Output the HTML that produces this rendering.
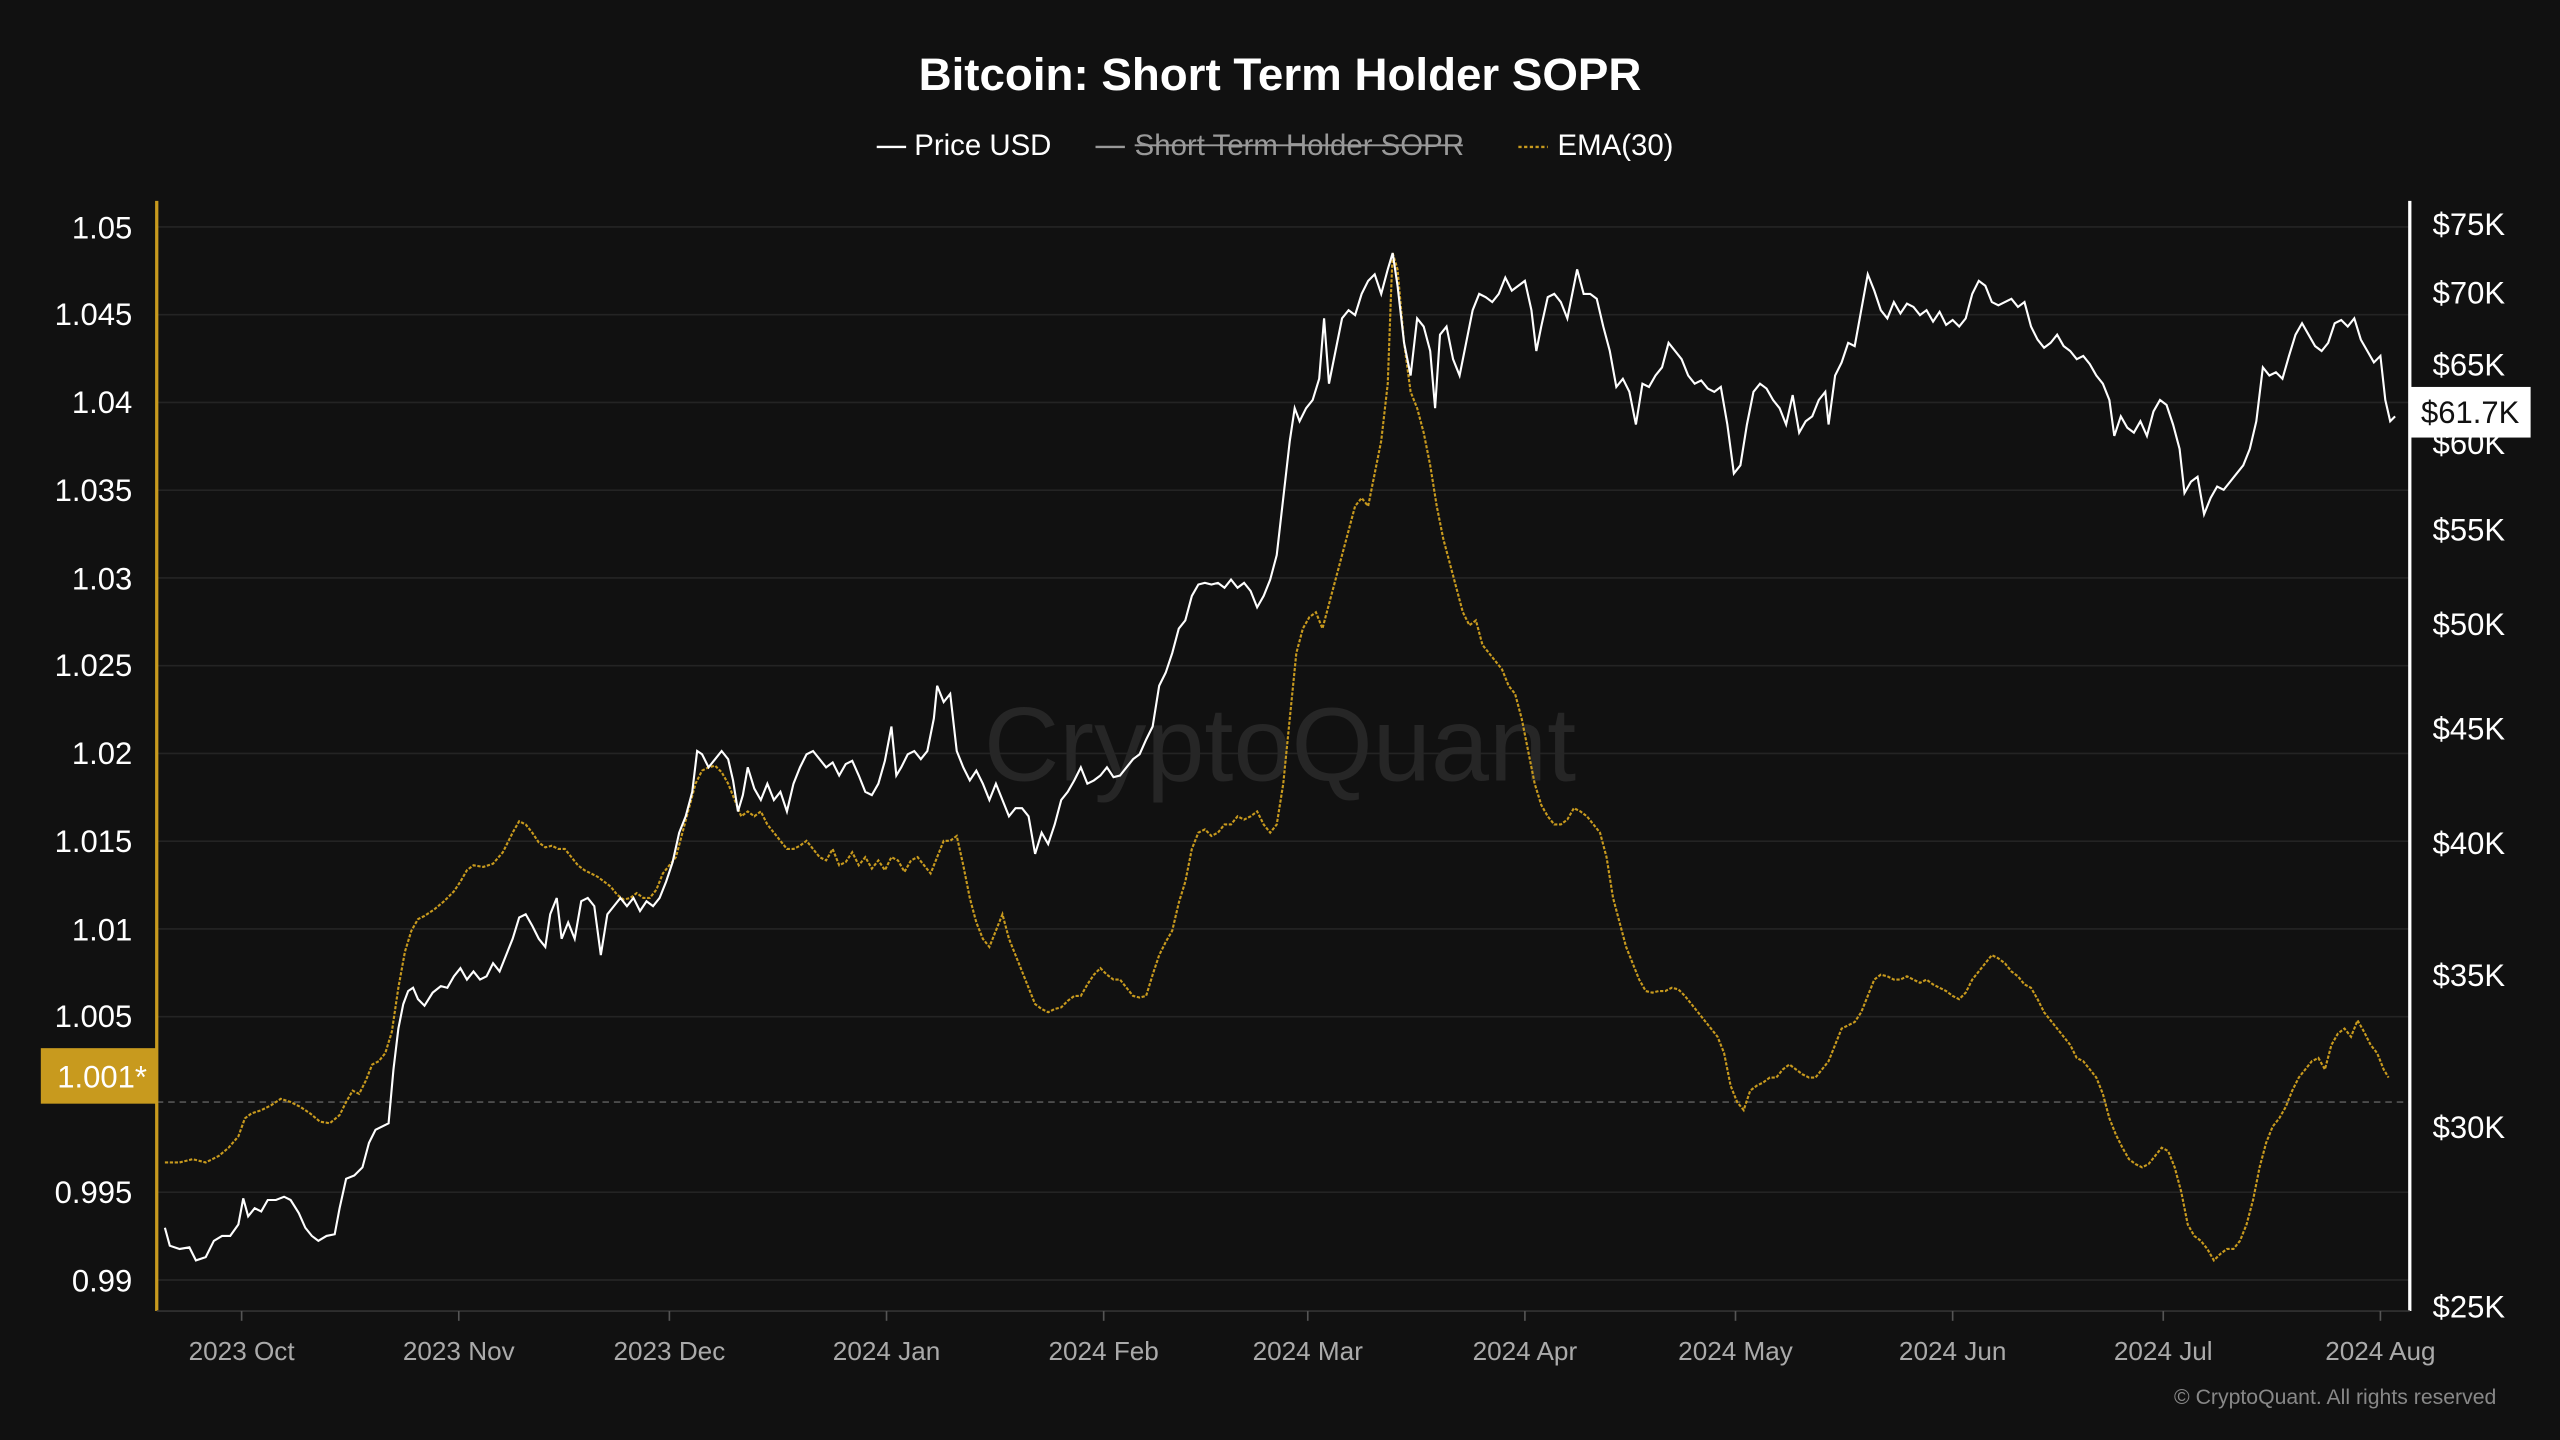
<!DOCTYPE html>
<html><head><meta charset="utf-8"><style>
html,body{margin:0;padding:0;background:#111111;}
svg{display:block}
text{font-family:"Liberation Sans",sans-serif;}
</style></head><body>
<svg width="2560" height="1440" viewBox="0 0 1568 882" xmlns="http://www.w3.org/2000/svg">
<rect width="1568" height="882" fill="#111111"/>
<text x="784" y="55" text-anchor="middle" fill="#ffffff" font-size="28" font-weight="bold">Bitcoin: Short Term Holder SOPR</text>
<g font-size="18">
<line x1="537" y1="90" x2="555" y2="90" stroke="#fff" stroke-width="1.5"/>
<text x="560" y="95" fill="#fff">Price USD</text>
<line x1="671" y1="90" x2="689" y2="90" stroke="#999" stroke-width="1.5"/>
<text x="695" y="95" fill="#999">Short Term Holder SOPR</text>
<line x1="695" y1="89" x2="896" y2="89" stroke="#999" stroke-width="1.2"/>
<line x1="930" y1="90" x2="948" y2="90" stroke="#c89a1e" stroke-width="1.5" stroke-dasharray="2,1.5"/>
<text x="954" y="95" fill="#fff">EMA(30)</text>
</g>
<g stroke="#242424" stroke-width="1">
<line x1="96" y1="139" x2="1476" y2="139"/><line x1="96" y1="192.75" x2="1476" y2="192.75"/>
<line x1="96" y1="246.5" x2="1476" y2="246.5"/><line x1="96" y1="300.25" x2="1476" y2="300.25"/>
<line x1="96" y1="354" x2="1476" y2="354"/><line x1="96" y1="407.75" x2="1476" y2="407.75"/>
<line x1="96" y1="461.5" x2="1476" y2="461.5"/><line x1="96" y1="515.25" x2="1476" y2="515.25"/>
<line x1="96" y1="569" x2="1476" y2="569"/><line x1="96" y1="622.75" x2="1476" y2="622.75"/>
<line x1="96" y1="730.25" x2="1476" y2="730.25"/><line x1="96" y1="784" x2="1476" y2="784"/>
</g>
<line x1="96" y1="675" x2="1476" y2="675" stroke="#555" stroke-width="1" stroke-dasharray="4,3"/>
<text x="784" y="478" text-anchor="middle" fill="#262626" font-size="64">CryptoQuant</text>
<line x1="96" y1="123" x2="96" y2="803" stroke="#c89a1e" stroke-width="2"/>
<line x1="1476" y1="123" x2="1476" y2="803" stroke="#ffffff" stroke-width="2"/>
<line x1="96" y1="803" x2="1476" y2="803" stroke="#333" stroke-width="1"/>
<g fill="#fff" font-size="19" text-anchor="end">
<text x="81" y="146">1.05</text><text x="81" y="199">1.045</text><text x="81" y="253">1.04</text>
<text x="81" y="307">1.035</text><text x="81" y="361">1.03</text><text x="81" y="414">1.025</text>
<text x="81" y="468">1.02</text><text x="81" y="522">1.015</text><text x="81" y="576">1.01</text>
<text x="81" y="629">1.005</text><text x="81" y="737">0.995</text><text x="81" y="791">0.99</text>
</g>
<rect x="25" y="642" width="71" height="34" fill="#c89a1e"/>
<text x="90" y="666" text-anchor="end" fill="#fff" font-size="19">1.001*</text>
<g fill="#fff" font-size="19">
<text x="1490" y="144">$75K</text><text x="1490" y="186">$70K</text><text x="1490" y="230">$65K</text>
<text x="1490" y="278">$60K</text><text x="1490" y="331">$55K</text><text x="1490" y="389">$50K</text>
<text x="1490" y="453">$45K</text><text x="1490" y="523">$40K</text><text x="1490" y="604">$35K</text>
<text x="1490" y="697">$30K</text><text x="1490" y="807">$25K</text>
</g>
<rect x="1476" y="237" width="74" height="31" fill="#fff"/>
<text x="1513" y="259" text-anchor="middle" fill="#111" font-size="19">$61.7K</text>
<g stroke="#555" stroke-width="1">
<line x1="148" y1="803" x2="148" y2="809"/><line x1="281" y1="803" x2="281" y2="809"/><line x1="410" y1="803" x2="410" y2="809"/>
<line x1="543" y1="803" x2="543" y2="809"/><line x1="676" y1="803" x2="676" y2="809"/><line x1="801" y1="803" x2="801" y2="809"/>
<line x1="934" y1="803" x2="934" y2="809"/><line x1="1063" y1="803" x2="1063" y2="809"/><line x1="1196" y1="803" x2="1196" y2="809"/>
<line x1="1325" y1="803" x2="1325" y2="809"/><line x1="1458" y1="803" x2="1458" y2="809"/>
</g>
<g fill="#aaa" font-size="16" text-anchor="middle">
<text x="148" y="833">2023 Oct</text><text x="281" y="833">2023 Nov</text><text x="410" y="833">2023 Dec</text>
<text x="543" y="833">2024 Jan</text><text x="676" y="833">2024 Feb</text><text x="801" y="833">2024 Mar</text>
<text x="934" y="833">2024 Apr</text><text x="1063" y="833">2024 May</text><text x="1196" y="833">2024 Jun</text>
<text x="1325" y="833">2024 Jul</text><text x="1458" y="833">2024 Aug</text>
</g>
<text x="1529" y="860" text-anchor="end" fill="#888" font-size="13">© CryptoQuant. All rights reserved</text>
<polyline fill="none" stroke="#c89a1e" stroke-width="1.3" stroke-dasharray="2,1" points="101,712 110,712 118,710 126,712 134,708 140,703 146,696 150,685 154,682 160,680 166,677 172,673 178,675 184,678 190,682 196,687 202,688 208,683 212,675 216,668 220,670 224,662 228,652 232,650 236,645 240,632 244,605 248,583 252,570 256,563 260,561 266,557 272,552 278,546 282,540 286,533 290,530 296,531 302,529 308,522 314,510 318,503 322,505 326,510 330,516 334,519 338,518 342,520 346,520 350,525 354,530 358,533 362,535 366,537 370,540 374,543 378,548 382,551 386,550 390,547 394,550 398,550 402,545 406,535 410,530 414,525 418,510 422,495 426,480 430,472 434,470 438,469 442,473 446,480 450,490 454,500 458,497 462,500 466,497 470,505 474,510 478,515 482,520 486,520 490,518 494,515 498,520 502,525 506,527 510,520 514,530 518,528 522,522 526,530 530,525 534,532 538,527 542,533 546,525 550,527 554,534 558,527 562,525 566,530 570,535 574,525 578,515 582,515 586,512 590,530 594,550 598,565 602,575 606,580 610,570 614,560 618,575 622,585 626,595 630,605 634,615 638,618 642,620 646,618 650,617 654,613 658,610 662,610 666,603 670,597 674,593 678,597 682,600 686,600 690,605 694,610 698,611 702,610 706,597 710,585 714,577 718,570 722,553 726,540 730,520 734,510 738,508 742,512 746,510 750,505 754,505 758,500 762,502 766,500 770,497 774,505 778,510 782,505 786,480 790,440 794,400 798,385 802,378 806,375 810,385 814,370 818,355 822,340 826,325 830,310 834,305 838,310 842,290 846,270 850,235 852,180 853,155 856,165 860,210 864,240 868,250 872,265 876,285 880,310 884,330 888,345 892,360 896,375 900,383 904,380 908,395 912,400 916,405 920,410 924,420 928,425 932,440 936,460 940,480 944,493 948,500 952,505 956,505 960,502 964,495 968,497 972,500 976,505 980,510 984,525 988,550 992,565 996,580 1000,590 1004,600 1008,607 1012,608 1016,607 1020,607 1024,605 1028,606 1032,610 1036,615 1040,620 1044,625 1048,630 1052,635 1056,645 1060,665 1064,675 1068,680 1072,668 1076,665 1080,663 1084,660 1088,660 1092,655 1096,652 1100,655 1104,658 1108,660 1112,660 1116,655 1120,650 1124,640 1128,630 1132,628 1136,626 1140,620 1144,610 1148,600 1152,597 1156,598 1160,600 1164,600 1168,598 1172,600 1176,602 1180,600 1184,603 1188,605 1192,607 1196,610 1200,612 1204,608 1208,600 1212,595 1216,590 1220,585 1224,587 1228,590 1232,595 1236,598 1240,603 1244,605 1248,612 1252,620 1256,625 1260,630 1264,635 1268,640 1272,648 1276,650 1280,655 1284,660 1288,670 1292,685 1296,695 1300,703 1304,710 1308,713 1312,715 1316,713 1320,708 1324,703 1328,705 1332,715 1336,730 1340,750 1344,757 1348,760 1352,765 1356,772 1360,768 1364,765 1368,765 1372,760 1376,750 1380,735 1384,715 1388,700 1392,690 1396,685 1400,678 1404,668 1408,660 1412,655 1416,650 1420,648 1424,655 1428,640 1432,633 1436,630 1440,635 1444,625 1448,632 1452,640 1456,645 1460,655 1463,660"/>
<polyline fill="none" stroke="#ffffff" stroke-width="1.3" points="101,752 104,763 110,765 116,764 120,772 126,770 131,760 136,757 141,757 146,750 149,734 152,745 156,740 160,742 164,735 169,735 174,733 178,735 183,743 187,752 191,757 195,760 200,757 205,756 208,740 212,722 217,720 222,715 226,700 230,692 234,690 238,688 241,655 244,630 247,615 250,607 253,605 256,612 260,616 265,608 270,604 274,605 278,598 282,593 286,600 290,595 294,600 298,598 302,590 306,595 310,585 314,575 318,562 322,560 326,567 330,575 334,580 337,560 341,550 344,575 348,565 352,575 356,552 360,550 364,555 368,585 372,560 376,555 380,550 384,555 388,550 392,558 396,552 400,555 404,550 408,540 412,528 416,510 420,500 424,485 427,460 430,462 434,470 438,465 442,460 446,465 449,478 452,497 455,487 458,470 462,483 466,490 470,480 474,490 478,485 482,497 486,480 490,470 494,462 498,460 502,465 506,470 510,467 514,475 518,468 522,466 526,475 530,485 534,487 538,480 542,466 546,445 549,475 552,470 556,462 560,460 564,465 568,460 572,440 574,420 578,430 582,425 586,460 590,470 594,478 598,472 602,480 606,490 610,480 614,490 618,500 622,495 626,495 630,500 634,523 638,510 642,517 646,505 650,490 654,485 658,478 662,470 666,480 670,478 674,475 678,470 682,476 686,475 690,470 694,465 698,462 702,453 706,445 710,420 714,412 718,400 722,385 726,380 730,365 734,358 738,357 742,358 746,357 750,360 754,355 758,360 762,357 766,362 770,372 774,365 778,355 782,340 786,305 790,270 793,250 796,258 800,250 804,245 808,232 811,195 814,235 818,215 822,195 826,190 830,193 834,180 838,172 842,168 846,180 850,165 853,155 856,175 860,210 864,230 868,195 872,200 876,215 879,250 882,205 886,200 890,220 894,230 898,210 902,190 906,180 910,182 914,185 918,180 922,170 926,178 930,175 934,172 938,190 941,215 944,200 948,182 952,180 956,185 960,195 963,180 966,165 970,180 974,180 978,183 982,200 986,215 990,237 994,232 998,240 1002,260 1006,235 1010,237 1014,230 1018,225 1022,210 1026,215 1030,220 1034,230 1038,235 1042,233 1046,238 1050,240 1054,237 1058,260 1062,290 1066,285 1070,260 1074,240 1078,235 1082,238 1086,245 1090,250 1094,260 1098,242 1102,265 1106,258 1110,255 1114,245 1118,240 1120,260 1124,230 1128,222 1132,210 1136,212 1140,190 1144,168 1148,178 1152,190 1156,195 1160,185 1164,192 1168,186 1172,188 1176,193 1180,190 1184,197 1188,191 1192,199 1196,196 1200,200 1204,195 1208,180 1212,172 1216,175 1220,185 1224,187 1228,185 1232,183 1236,188 1240,185 1244,200 1248,208 1252,213 1256,210 1260,205 1264,212 1268,215 1272,220 1276,218 1280,223 1284,230 1288,235 1292,245 1295,267 1299,255 1303,262 1307,265 1311,258 1315,267 1319,252 1323,245 1327,248 1331,260 1335,275 1338,302 1342,295 1346,292 1350,315 1354,305 1358,298 1362,300 1366,295 1370,290 1374,285 1378,275 1382,258 1386,225 1390,230 1394,228 1398,232 1402,218 1406,205 1410,198 1414,205 1418,212 1422,215 1426,210 1430,198 1434,196 1438,200 1442,195 1446,208 1450,215 1454,222 1458,218 1461,245 1464,258 1467,255"/>
</svg>
</body></html>
